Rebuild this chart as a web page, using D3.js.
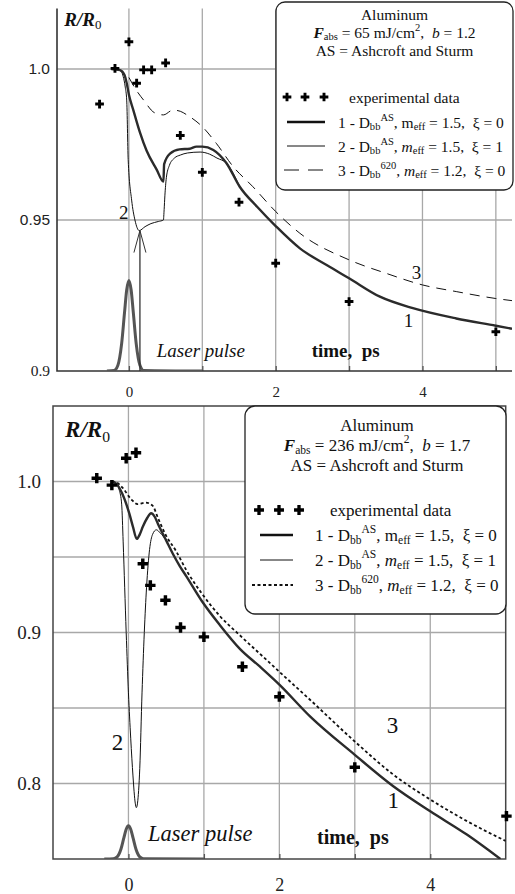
<!DOCTYPE html>
<html>
<head>
<meta charset="utf-8">
<script src="https://cdnjs.cloudflare.com/ajax/libs/d3/7.8.5/d3.min.js"></script>
<style>
  body { margin: 0; background: #fff; }
  svg { display: block; }
  text { fill: #111; white-space: pre; }
</style>
</head>
<body>
<div id="chart"></div>
<script>
// ---- top panel data (F_abs = 65 mJ/cm2) ----
var topExp = [[-0.40,0.9884],[-0.19,1.0002],[0.0,1.009],[0.105,0.9953],[0.20,0.9997],[0.31,0.9997],
  [0.50,1.002],[0.70,0.978],[1.0,0.9658],[1.5,0.9559],[2.0,0.9357],[3.0,0.923],[5.0,0.913]];
var topCurve1 = [[-0.24,1.0],[-0.12,0.9996],[-0.06,0.998],[-0.03,0.9953],[0.0,0.9915],[0.06,0.9864],
  [0.15,0.979],[0.24,0.973],[0.38,0.9666],[0.47,0.9627],[0.48,0.9685],[0.56,0.972],[0.69,0.9734],
  [0.83,0.9736],[0.92,0.9743],[1.0,0.9743],[1.15,0.9732],[1.33,0.9688],[1.51,0.961],[1.75,0.9543],
  [2.0,0.948],[2.33,0.9406],[2.7,0.935],[3.0,0.9307],[3.42,0.9246],[3.87,0.9208],[4.46,0.9174],
  [5.0,0.915],[5.22,0.914]];
var topCurve2 = [[-0.24,1.0],[-0.15,0.9997],[-0.1,0.999],[-0.078,0.9975],[-0.05,0.994],[-0.03,0.9897],
  [-0.01,0.970],[0.037,0.9566],[0.082,0.950],[0.14,0.9465],[0.22,0.9478],[0.30,0.9488],[0.40,0.9495],
  [0.47,0.950],[0.48,0.9535],[0.49,0.958],[0.51,0.964],[0.55,0.968],[0.62,0.9705],[0.70,0.9715],
  [0.80,0.9722],[0.97,0.9725],[1.1,0.9718],[1.2,0.9705],[1.33,0.9688],[1.51,0.961]];
var topCurve3 = [[0.0,0.9972],[0.1,0.993],[0.2,0.9897],[0.35,0.9855],[0.47,0.9848],[0.6,0.9864],
  [0.7,0.986],[0.79,0.9848],[1.0,0.9809],[1.19,0.9754],[1.42,0.9677],[1.69,0.961],[2.0,0.9528],
  [2.33,0.9456],[3.0,0.9368],[3.51,0.9323],[4.0,0.9285],[4.46,0.9263],[5.0,0.924],[5.22,0.9233]];
var topPulse = [[-0.3,0.9],[-0.2,0.9002],[-0.15,0.9019],[-0.1,0.9089],[-0.06,0.9193],[-0.03,0.9269],
  [0.0,0.930],[0.03,0.9269],[0.06,0.9193],[0.1,0.9089],[0.15,0.9019],[0.2,0.9002],[1.0,0.9]];
var topArrow = [[0.15,0.9],[0.15,0.9465]];

// ---- bottom panel data (F_abs = 236 mJ/cm2) ----
var botExp = [[-0.42,1.0022],[-0.22,0.9976],[-0.03,1.0154],[0.10,1.019],[0.19,0.9455],[0.29,0.9312],
  [0.49,0.9213],[0.69,0.9033],[1.0,0.8971],[1.51,0.8773],[2.0,0.8575],[3.0,0.8107],[5.01,0.7784]];
var botCurve1 = [[-0.22,1.0],[-0.16,0.9985],[-0.08,0.9917],[0.01,0.979],[0.06,0.970],[0.11,0.962],
  [0.15,0.965],[0.19,0.970],[0.25,0.976],[0.30,0.979],[0.35,0.9765],[0.39,0.972],[0.5,0.961],
  [0.59,0.952],[0.68,0.944],[0.77,0.937],[0.97,0.921],[1.21,0.905],[1.48,0.889],[1.74,0.8775],
  [2.0,0.8655],[2.41,0.8443],[3.0,0.819],[3.51,0.7982],[4.0,0.7816],[4.49,0.766],[4.93,0.75]];
var botCurve2 = [[-0.22,1.0],[-0.16,0.998],[-0.12,0.994],[-0.09,0.985],[-0.07,0.96],[-0.05,0.93],
  [-0.03,0.90],[0.0,0.86],[0.03,0.83],[0.06,0.805],[0.09,0.787],[0.105,0.784],[0.12,0.787],
  [0.15,0.81],[0.18,0.86],[0.21,0.90],[0.24,0.93],[0.28,0.955],[0.32,0.965],[0.37,0.968],
  [0.42,0.966],[0.5,0.961]];
var botCurve3 = [[-0.22,1.0],[-0.16,0.9994],[-0.08,0.996],[0.04,0.988],[0.12,0.985],[0.23,0.986],
  [0.32,0.984],[0.39,0.976],[0.50,0.964],[0.63,0.954],[0.77,0.941],[0.97,0.926],[1.21,0.911],
  [1.48,0.898],[1.74,0.886],[2.0,0.874],[2.41,0.8553],[3.0,0.8278],[3.51,0.8059],[4.0,0.7894],
  [4.49,0.775],[5.0,0.7619]];
var botPulse = [[-0.32,0.75],[-0.2,0.7502],[-0.15,0.7514],[-0.1,0.7565],[-0.06,0.7642],[-0.03,0.7697],
  [0.0,0.772],[0.03,0.7697],[0.06,0.7642],[0.1,0.7565],[0.15,0.7514],[0.2,0.7502],[1.0,0.75]];

// ticks
var topXGrid = [0,1,2,3,4,5], topXLabels = [0,2,4];
var topYGrid = [0.95,1.0], topYLabels = ["0.9","0.95","1.0"];
var botXGrid = [0,1,2,3,4], botXLabels = [0,2,4];
var botYGrid = [0.8,0.85,0.9,0.95,1.0], botYLabels = ["0.8","0.9","1.0"];

// legend texts
var legendHeadTop = ["Aluminum", "65", "1.2", "AS = Ashcroft and Sturm"];
var legendHeadBot = ["Aluminum", "236", "1.7", "AS = Ashcroft and Sturm"];

var SERIF = '"Liberation Serif", "Times New Roman", serif';
var SANS = '"Liberation Sans", Arial, sans-serif';

var W = 515, H = 894;
var svg = d3.select("#chart").append("svg").attr("width", W).attr("height", H);

// writes a run of tspans with sub/superscripts
function rich(sel, parts, fs) {
  var shift = 0;
  parts.forEach(function(p) {
    var target = p.sub ? fs * 0.28 : (p.sup ? -fs * 0.33 : 0);
    var ts = sel.append("tspan").text(p.t).attr("dy", target - shift);
    shift = target;
    if (p.sub || p.sup) ts.style("font-size", (fs * 0.68) + "px");
    if (p.b) ts.style("font-weight", "bold");
    if (p.i) ts.style("font-style", "italic");
  });
}

function drawPanel(c) {
  var g = svg.append("g");
  var x = c.x, y = c.y;
  var x0 = x.range()[0], x1 = x.range()[1], yB = y.range()[0], yT = y.range()[1];

  // grid
  g.append("g").selectAll("line").data(c.xGrid).enter().append("line")
    .attr("x1", d => x(d)).attr("x2", d => x(d)).attr("y1", yB).attr("y2", yT)
    .attr("stroke", "#a8a8a8").attr("stroke-width", 1.3);
  g.append("g").selectAll("line").data(c.yGrid).enter().append("line")
    .attr("x1", x0).attr("x2", x1).attr("y1", d => y(d)).attr("y2", d => y(d))
    .attr("stroke", "#a8a8a8").attr("stroke-width", 1.3);

  // short dark ticks on the bottom axis
  g.append("g").attr("transform", "translate(0," + yB + ")")
    .call(d3.axisTop(x).tickValues(c.xGrid).tickSize(5).tickFormat(""))
    .call(s => s.select(".domain").remove())
    .selectAll("line").attr("stroke", "#555").attr("stroke-width", 1.3);

  // frame
  if (c.box) {
    g.append("rect").attr("x", x0).attr("y", yT).attr("width", x1 - x0).attr("height", yB - yT)
      .attr("fill", "none").attr("stroke", "#444").attr("stroke-width", 1.5);
  } else {
    g.append("path").attr("d", "M" + x0 + "," + yT + "V" + yB + "H" + x1)
      .attr("fill", "none").attr("stroke", "#333").attr("stroke-width", 1.6);
  }

  // tick labels
  g.append("g").attr("transform", "translate(0," + (yB + c.xLabOff) + ")")
    .call(d3.axisBottom(x).tickValues(c.xLabels).tickSize(0).tickPadding(0).tickFormat(d3.format("d")))
    .call(s => s.select(".domain").remove())
    .selectAll("text").attr("dy", "0.35em").style("font-size", c.tickFs + "px")
    .style("font-family", SERIF).style("fill", "#222");
  g.append("g").attr("transform", "translate(" + c.yLabX + ",0)")
    .call(d3.axisLeft(y).tickValues(c.yLabels.map(Number)).tickSize(0).tickPadding(0)
      .tickFormat((d, i) => c.yLabels[i]))
    .call(s => s.select(".domain").remove())
    .selectAll("text").style("font-size", c.yTickFs + "px")
    .style("font-family", (d, i) => c.yLabFont[i]).style("fill", "#222");

  var clipId = "clip" + c.id;
  svg.append("clipPath").attr("id", clipId).append("rect")
    .attr("x", x0).attr("y", yT).attr("width", x1 - x0).attr("height", yB - yT);
  var plot = g.append("g").attr("clip-path", "url(#" + clipId + ")");

  var line = d3.line().x(d => x(d[0])).y(d => y(d[1])).curve(d3.curveMonotoneX);

  plot.append("path").datum(c.pulse).attr("d", line)
    .attr("fill", "none").attr("stroke", "#555").attr("stroke-width", 3);
  plot.append("path").datum(c.curve3).attr("d", line)
    .attr("fill", "none").attr("stroke", "#111").attr("stroke-width", c.dashW)
    .attr("stroke-dasharray", c.dash);
  plot.append("path").datum(c.curve2).attr("d", line)
    .attr("fill", "none").attr("stroke", "#111").attr("stroke-width", 1);
  plot.append("path").datum(c.curve1).attr("d", line)
    .attr("fill", "none").attr("stroke", "#2b2b2b").attr("stroke-width", 2.4);

  if (c.arrow) {
    var ax = x(c.arrow[1][0]), ay = y(c.arrow[1][1]);
    g.append("line").attr("x1", x(c.arrow[0][0])).attr("x2", ax)
      .attr("y1", y(c.arrow[0][1])).attr("y2", ay).attr("stroke", "#333").attr("stroke-width", 1.3);
    g.append("path").attr("d", "M" + (ax - 6) + "," + (ay + 22) + "L" + ax + "," + ay + "L" + (ax + 6) + "," + (ay + 22))
      .attr("fill", "none").attr("stroke", "#333").attr("stroke-width", 1);
  }

  var cross = d3.symbol().type(d3.symbolCross).size(c.crossSize);
  g.append("g").selectAll("path").data(c.exp).enter().append("path")
    .attr("d", cross).attr("transform", d => "translate(" + x(d[0]) + "," + y(d[1]) + ")")
    .attr("fill", "#000");

  // annotations
  c.labels.forEach(function(l) {
    var t = g.append("text").attr("x", x(l.at[0])).attr("y", y(l.at[1]))
      .attr("dominant-baseline", "central").style("font-size", l.fs + "px")
      .style("font-family", SERIF).attr("text-anchor", l.anchor || "start");
    rich(t, l.parts, l.fs);
  });

  // legend
  var L = c.legend;
  var lg = svg.append("g");
  lg.append("rect").attr("x", L.x).attr("y", L.y).attr("width", L.w).attr("height", L.h)
    .attr("rx", L.r).attr("fill", "#fff").attr("stroke", "#222").attr("stroke-width", 1.3);
  var head = L.head;
  var headParts = [
    [{t: head[0]}],
    [{t: "F", b: 1, i: 1}, {t: "abs", sub: 1}, {t: " = " + head[1] + " mJ/cm"}, {t: "2", sup: 1},
     {t: ",  "}, {t: "b", i: 1}, {t: " = " + head[2]}],
    [{t: head[3]}]
  ];
  headParts.forEach(function(p, i) {
    var t = lg.append("text").attr("x", L.cx).attr("y", L.headY[i]).attr("text-anchor", "middle")
      .attr("dominant-baseline", "central").style("font-size", L.fs + "px").style("font-family", SERIF);
    rich(t, p, L.fs);
  });
  var rowParts = [
    [{t: "experimental data"}],
    [{t: "1 - D"}, {t: "bb", sub: 1}, {t: "AS", sup: 1}, {t: ", m"}, {t: "eff", sub: 1}, {t: " = 1.5,  \u03BE = 0"}],
    [{t: "2 - D"}, {t: "bb", sub: 1}, {t: "AS", sup: 1}, {t: ", "}, {t: "m", i: 1}, {t: "eff", sub: 1}, {t: " = 1.5,  \u03BE = 1"}],
    [{t: "3 - D"}, {t: "bb", sub: 1}, {t: "620", sup: 1}, {t: ", "}, {t: "m", i: 1}, {t: "eff", sub: 1}, {t: " = 1.2,  \u03BE = 0"}]
  ];
  rowParts.forEach(function(p, i) {
    var ry = L.rowY[i];
    if (i === 0) {
      L.crossX.forEach(function(cx) {
        lg.append("path").attr("d", d3.symbol().type(d3.symbolCross).size(L.crossSize))
          .attr("transform", "translate(" + cx + "," + ry + ")").attr("fill", "#000");
      });
    } else {
      var st = L.samples[i - 1];
      lg.append("line").attr("x1", st.x1).attr("x2", L.sx2).attr("y1", ry).attr("y2", ry)
        .attr("stroke", "#111").attr("stroke-width", st.w).attr("stroke-dasharray", st.dash);
    }
    var t = lg.append("text").attr("x", i === 0 ? L.expX : L.textX).attr("y", ry)
      .attr("dominant-baseline", "central").style("font-size", L.fs + "px").style("font-family", SERIF);
    rich(t, p, L.fs);
  });
}

var xTop = d3.scaleLinear().domain([-0.98, 5.22]).range([57, 512]);
var yTop = d3.scaleLinear().domain([0.9, 1.02]).range([371, 8.6]);
var xBot = d3.scaleLinear().domain([-1, 5]).range([53, 505.7]);
var yBot = d3.scaleLinear().domain([0.75, 1.05]).range([859, 406]);

drawPanel({
  id: "top", x: xTop, y: yTop, box: false,
  xGrid: topXGrid, yGrid: topYGrid, xLabels: topXLabels, yLabels: topYLabels,
  yLabFont: [SERIF, SANS, SANS],
  xLabOff: 21, tickFs: 15, yTickFs: 15.5, yLabX: 50,
  exp: topExp, curve1: topCurve1, curve2: topCurve2, curve3: topCurve3, pulse: topPulse,
  arrow: topArrow, dash: "10,7", dashW: 1, crossSize: 42,
  labels: [
    {at: [-0.88, 1.0165], fs: 19, parts: [{t: "R/R", b: 1, i: 1}, {t: "0", sub: 1}]},
    {at: [-0.07, 0.9527], fs: 19, anchor: "middle", parts: [{t: "2"}]},
    {at: [3.92, 0.9329], fs: 19, anchor: "middle", parts: [{t: "3"}]},
    {at: [3.81, 0.9169], fs: 19, anchor: "middle", parts: [{t: "1"}]},
    {at: [0.38, 0.907], fs: 19, parts: [{t: "Laser pulse", i: 1}]},
    {at: [2.49, 0.907], fs: 19, parts: [{t: "time,  ps", b: 1}]}
  ],
  legend: {x: 276, y: 2, w: 237, h: 188, r: 9, cx: 394.5, fs: 15.5, head: legendHeadTop,
    headY: [14, 32, 50], rowY: [97, 122, 146, 170], crossX: [287, 305, 324], crossSize: 42,
    expX: 349, textX: 338, sx2: 325,
    samples: [{x1: 287, w: 2.4, dash: null}, {x1: 287, w: 1, dash: null}, {x1: 284, w: 1, dash: "15,9"}]}
});

drawPanel({
  id: "bot", x: xBot, y: yBot, box: true,
  xGrid: botXGrid, yGrid: botYGrid, xLabels: botXLabels, yLabels: botYLabels,
  yLabFont: [SERIF, SERIF, SERIF],
  xLabOff: 26, tickFs: 18, yTickFs: 19, yLabX: 41,
  exp: botExp, curve1: botCurve1, curve2: botCurve2, curve3: botCurve3, pulse: botPulse,
  arrow: null, dash: "3,2.5", dashW: 1.8, crossSize: 60,
  labels: [
    {at: [-0.84, 1.0347], fs: 23, parts: [{t: "R/R", b: 1, i: 1}, {t: "0", sub: 1}]},
    {at: [-0.145, 0.8275], fs: 23, anchor: "middle", parts: [{t: "2"}]},
    {at: [3.5, 0.839], fs: 23, anchor: "middle", parts: [{t: "3"}]},
    {at: [3.51, 0.789], fs: 23, anchor: "middle", parts: [{t: "1"}]},
    {at: [0.26, 0.767], fs: 22.5, parts: [{t: "Laser pulse", i: 1}]},
    {at: [2.5, 0.7646], fs: 20, parts: [{t: "time,  ps", b: 1}]}
  ],
  legend: {x: 245, y: 406, w: 261, h: 208, r: 10, cx: 377, fs: 17, head: legendHeadBot,
    headY: [425, 445, 465], rowY: [510, 535, 560, 585], crossX: [259, 279, 299], crossSize: 55,
    expX: 330, textX: 315, sx2: 293,
    samples: [{x1: 260, w: 2.4, dash: null}, {x1: 260, w: 1, dash: null}, {x1: 252, w: 1.8, dash: "3,2.5"}]}
});
</script>
</body>
</html>
